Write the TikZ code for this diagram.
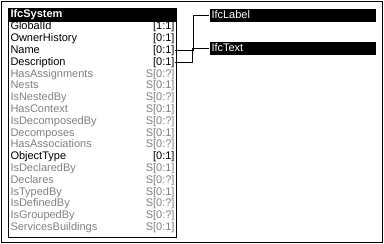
\documentclass[tikz,border=0pt]{standalone}
\usepackage{fontspec}
\setmainfont{Liberation Sans}
\usetikzlibrary{positioning}
\definecolor{inversegray}{RGB}{128,128,128}

\begin{document}
\begin{tikzpicture}[x=1pt, y=-1pt, line width=1pt, font=\fontsize{11}{11}\selectfont,
  entity/.style={draw, anchor=north west, minimum width=168pt, minimum height=229pt, inner sep=0pt},
  head/.style={fill=black, text=white, inner xsep=2pt, inner ysep=0pt, minimum height=13pt, align=left},
  attr/.style={anchor=base west, inner sep=0pt},
  card/.style={anchor=base east, inner sep=0pt}]

  \useasboundingbox (0,0) rectangle (384,244);
  \draw (1,1) rectangle (382.5,242.5);

  % entity box with its black title bar
  \node[entity] (sys) at (8,8) {};
  \node[head, anchor=north west, text width=164pt, font=\fontsize{11}{11}\selectfont\bfseries] (hdr) at (sys.north west) {IfcSystem};

  % attribute rows: name, cardinality, colour
  \foreach \n/\c/\col [count=\i] in {
      GlobalId/{[1:1]}/black,
      OwnerHistory/{[0:1]}/black,
      Name/{[0:1]}/black,
      Description/{[0:1]}/black,
      HasAssignments/{S[0:?]}/inversegray,
      Nests/{S[0:1]}/inversegray,
      IsNestedBy/{S[0:?]}/inversegray,
      HasContext/{S[0:1]}/inversegray,
      IsDecomposedBy/{S[0:?]}/inversegray,
      Decomposes/{S[0:1]}/inversegray,
      HasAssociations/{S[0:?]}/inversegray,
      ObjectType/{[0:1]}/black,
      IsDeclaredBy/{S[0:1]}/inversegray,
      Declares/{S[0:?]}/inversegray,
      IsTypedBy/{S[0:1]}/inversegray,
      IsDefinedBy/{S[0:?]}/inversegray,
      IsGroupedBy/{S[0:?]}/inversegray,
      ServicesBuildings/{S[0:1]}/inversegray}
  {
    \node[attr, text=\col] (a\i) at (10, 29.8+11.8*\i-11.8) {\n};
    \node[card, text=\col] (c\i) at (175, 29.8+11.8*\i-11.8) {\c};
  }

  % referenced types
  \node[head, text width=162pt, right=32pt of hdr] (lbl) {IfcLabel};
  \node[head, text width=162pt, below=19pt of lbl] (txt) {IfcText};

  \draw (c3.east) -- ++(18.5,0) |- (lbl.west);
  \draw (c4.east) -- ++(17,0) |- (txt.west);

\end{tikzpicture}
\end{document}
